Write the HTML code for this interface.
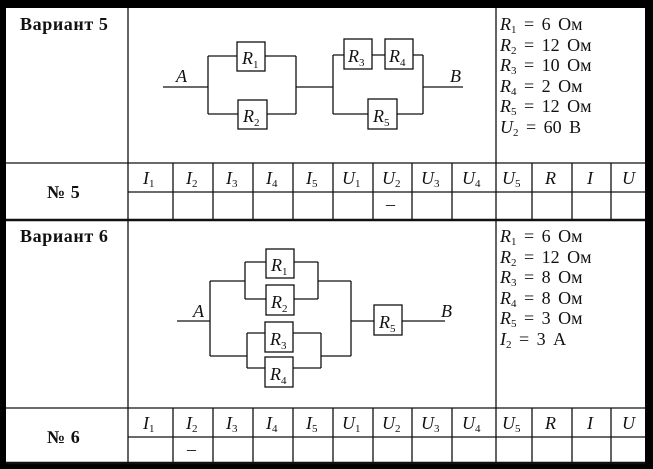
<!DOCTYPE html>
<html><head><meta charset="utf-8"><style>
html,body{margin:0;padding:0;background:#000;}
svg{display:block;}
text{font-family:"Liberation Serif",serif;fill:#111;}
.b{font-weight:bold;font-size:18px;letter-spacing:0.6px;}
.v{font-size:18px;word-spacing:3px;}
.i{font-style:italic;font-size:18px;}
.s{font-size:11px;font-style:normal;}
</style></head><body>
<svg width="653" height="469" viewBox="0 0 653 469" xmlns="http://www.w3.org/2000/svg">
<rect x="0" y="0" width="653" height="469" fill="#000"/>
<rect x="6" y="8" width="639" height="455" fill="#fff"/>
<g stroke="#111" stroke-width="1.3" fill="none">
<line x1="128" y1="8" x2="128" y2="463"/>
<line x1="496" y1="8" x2="496" y2="163"/>
<line x1="496" y1="220" x2="496" y2="408"/>
<line x1="6" y1="163" x2="645" y2="163"/>
<line x1="128" y1="192" x2="645" y2="192"/>
<line x1="6" y1="220" x2="645" y2="220" stroke-width="2.5"/>
<line x1="6" y1="408" x2="645" y2="408"/>
<line x1="128" y1="437" x2="645" y2="437"/>
<line x1="6" y1="463" x2="645" y2="463" stroke-width="2.5"/>
<path d="M173 163V220M213 163V220M253 163V220M293 163V220M333 163V220M373 163V220M412 163V220M452 163V220M496 163V220M532 163V220M572 163V220M611 163V220"/>
<path d="M173 408V463M213 408V463M253 408V463M293 408V463M333 408V463M373 408V463M412 408V463M452 408V463M496 408V463M532 408V463M572 408V463M611 408V463"/>
<path d="M163 87H208M208 56V114M208 56H237M265 56H296M208 114H238M267 114H296M296 56V114M296 87H333M333 55V114M333 55H344M372 55H385M413 55H423M423 55V114M333 114H368M397 114H423M423 87H463"/>
<rect x="237" y="42" width="28" height="29"/>
<rect x="238" y="100" width="29" height="29"/>
<rect x="344" y="39" width="28" height="30"/>
<rect x="385" y="39" width="28" height="30"/>
<rect x="368" y="99" width="29" height="30"/>
<path d="M177 321H210M210 281V356M210 281H245M245 262V299M245 262H266M294 262H318M245 299H266M294 299H318M318 262V299M318 281H351M351 281V356M210 356H247M247 333V368M247 333H265M293 333H321M247 368H265M293 368H321M321 333V368M321 356H351M351 321H374M402 321H445"/>
<rect x="266" y="249" width="28" height="29"/>
<rect x="266" y="285" width="28" height="30"/>
<rect x="265" y="322" width="28" height="30"/>
<rect x="265" y="357" width="28" height="30"/>
<rect x="374" y="305" width="28" height="30"/>
</g>
<text x="20" y="30" class="b">Вариант 5</text>
<text x="47" y="198" class="b">№ 5</text>
<text x="20" y="242" class="b">Вариант 6</text>
<text x="47" y="443" class="b">№ 6</text>
<g class="i">
<text x="176" y="82">A</text><text x="450" y="82">B</text>
<text x="242" y="64">R<tspan class="s" dy="4">1</tspan></text>
<text x="243" y="122">R<tspan class="s" dy="4">2</tspan></text>
<text x="348" y="62">R<tspan class="s" dy="4">3</tspan></text>
<text x="389" y="62">R<tspan class="s" dy="4">4</tspan></text>
<text x="373" y="122">R<tspan class="s" dy="4">5</tspan></text>
<text x="193" y="317">A</text><text x="441" y="317">B</text>
<text x="271" y="271">R<tspan class="s" dy="4">1</tspan></text>
<text x="271" y="308">R<tspan class="s" dy="4">2</tspan></text>
<text x="270" y="345">R<tspan class="s" dy="4">3</tspan></text>
<text x="270" y="380">R<tspan class="s" dy="4">4</tspan></text>
<text x="379" y="328">R<tspan class="s" dy="4">5</tspan></text>
</g>
<g class="v">
<text x="500" y="30"><tspan font-style="italic">R</tspan><tspan class="s" dy="3">1</tspan><tspan dy="-3"> = 6 Ом</tspan></text>
<text x="500" y="51"><tspan font-style="italic">R</tspan><tspan class="s" dy="3">2</tspan><tspan dy="-3"> = 12 Ом</tspan></text>
<text x="500" y="71"><tspan font-style="italic">R</tspan><tspan class="s" dy="3">3</tspan><tspan dy="-3"> = 10 Ом</tspan></text>
<text x="500" y="92"><tspan font-style="italic">R</tspan><tspan class="s" dy="3">4</tspan><tspan dy="-3"> = 2 Ом</tspan></text>
<text x="500" y="112"><tspan font-style="italic">R</tspan><tspan class="s" dy="3">5</tspan><tspan dy="-3"> = 12 Ом</tspan></text>
<text x="500" y="133"><tspan font-style="italic">U</tspan><tspan class="s" dy="3">2</tspan><tspan dy="-3"> = 60 В</tspan></text>
<text x="500" y="242"><tspan font-style="italic">R</tspan><tspan class="s" dy="3">1</tspan><tspan dy="-3"> = 6 Ом</tspan></text>
<text x="500" y="263"><tspan font-style="italic">R</tspan><tspan class="s" dy="3">2</tspan><tspan dy="-3"> = 12 Ом</tspan></text>
<text x="500" y="283"><tspan font-style="italic">R</tspan><tspan class="s" dy="3">3</tspan><tspan dy="-3"> = 8 Ом</tspan></text>
<text x="500" y="304"><tspan font-style="italic">R</tspan><tspan class="s" dy="3">4</tspan><tspan dy="-3"> = 8 Ом</tspan></text>
<text x="500" y="324"><tspan font-style="italic">R</tspan><tspan class="s" dy="3">5</tspan><tspan dy="-3"> = 3 Ом</tspan></text>
<text x="500" y="345"><tspan font-style="italic">I</tspan><tspan class="s" dy="3">2</tspan><tspan dy="-3"> = 3 А</tspan></text>
</g>
<g class="i">
<text x="143" y="184">I<tspan class="s" dy="3">1</tspan></text>
<text x="186" y="184">I<tspan class="s" dy="3">2</tspan></text>
<text x="226" y="184">I<tspan class="s" dy="3">3</tspan></text>
<text x="266" y="184">I<tspan class="s" dy="3">4</tspan></text>
<text x="306" y="184">I<tspan class="s" dy="3">5</tspan></text>
<text x="342" y="184">U<tspan class="s" dy="3">1</tspan></text>
<text x="382" y="184">U<tspan class="s" dy="3">2</tspan></text>
<text x="421" y="184">U<tspan class="s" dy="3">3</tspan></text>
<text x="462" y="184">U<tspan class="s" dy="3">4</tspan></text>
<text x="502" y="184">U<tspan class="s" dy="3">5</tspan></text>
<text x="545" y="184">R</text>
<text x="587" y="184">I</text>
<text x="622" y="184">U</text>
<text x="143" y="429">I<tspan class="s" dy="3">1</tspan></text>
<text x="186" y="429">I<tspan class="s" dy="3">2</tspan></text>
<text x="226" y="429">I<tspan class="s" dy="3">3</tspan></text>
<text x="266" y="429">I<tspan class="s" dy="3">4</tspan></text>
<text x="306" y="429">I<tspan class="s" dy="3">5</tspan></text>
<text x="342" y="429">U<tspan class="s" dy="3">1</tspan></text>
<text x="382" y="429">U<tspan class="s" dy="3">2</tspan></text>
<text x="421" y="429">U<tspan class="s" dy="3">3</tspan></text>
<text x="462" y="429">U<tspan class="s" dy="3">4</tspan></text>
<text x="502" y="429">U<tspan class="s" dy="3">5</tspan></text>
<text x="545" y="429">R</text>
<text x="587" y="429">I</text>
<text x="622" y="429">U</text>
</g>
<text x="386" y="210" class="v">–</text>
<text x="187" y="455" class="v">–</text>
</svg>
</body></html>
